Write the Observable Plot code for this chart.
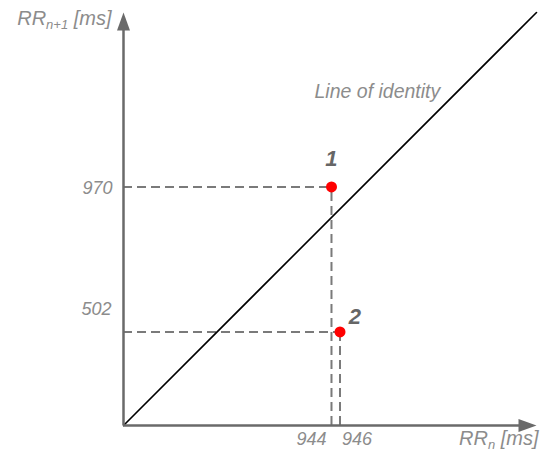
<!DOCTYPE html>
<html>
<head>
<meta charset="utf-8">
<script src="https://cdn.jsdelivr.net/npm/d3@7"></script>
<script src="https://cdn.jsdelivr.net/npm/@observablehq/plot@0.6"></script>
<style>
  html, body { margin: 0; padding: 0; background: #fff; }
  #chart svg { display: block; }
</style>
</head>
<body>
<div id="chart"></div>
<script>
// Data (schematic Poincaré plot)
const beats = ["1", "2"];
const rrN = [944, 946];      // RR_n [ms]
const rrN1 = [970, 502];     // RR_{n+1} [ms]
const xTicks = ["944", "946"];
const yTicks = ["970", "502"];
const identityLabel = "Line of identity";
const xTitle = "RR_n [ms]";
const yTitle = "RR_n+1 [ms]";

// schematic (non-uniform) axis extents
const xDomain = [895.1, 992.2];
const yDomain = [200.2, 1533];

const pts = beats.map((b, i) => ({beat: b, x: rrN[i], y: rrN1[i]}));
const [xmin, xmax] = xDomain;
const [ymin, ymax] = yDomain;

const font = "'Liberation Sans', Arial, sans-serif";
const gray = "#8c8c8c";
const axisGray = "#6a6a6a";
const dash = "#7a7a7a";

const headUp = {
  draw(ctx) {
    ctx.moveTo(0, 0);
    ctx.lineTo(-6.5, 18);
    ctx.lineTo(6.5, 18);
    ctx.closePath();
  }
};

const txt = (data, opts) => Plot.text(data, {
  fontFamily: font, fontStyle: "italic", fontSize: 18, fill: gray, ...opts
});

const chart = Plot.plot({
  width: 542,
  height: 459,
  marginLeft: 123,
  marginRight: 6,
  marginTop: 12,
  marginBottom: 34,
  x: {domain: xDomain, axis: null},
  y: {domain: yDomain, axis: null},
  style: {background: "#fff", fontFamily: font},
  marks: [
    // dashed guide lines
    Plot.ruleY(pts, {y: "y", x1: xmin, x2: "x", stroke: dash, strokeWidth: 2, strokeDasharray: "9,5"}),
    Plot.ruleX(pts, {x: "x", y1: ymin, y2: "y", stroke: dash, strokeWidth: 2, strokeDasharray: "9,5"}),
    // line of identity
    Plot.line([[xmin, ymin], [xmax, ymax]], {x: d => d[0], y: d => d[1], stroke: "#000", strokeWidth: 1.6}),
    // axes
    Plot.ruleX([xmin], {y1: ymin, y2: ymax - 50, stroke: axisGray, strokeWidth: 2.5}),
    Plot.ruleY([ymin], {x1: xmin, x2: xmax - 3, stroke: axisGray, strokeWidth: 2.5}),
    Plot.dot([[xmin, ymax]], {x: d => d[0], y: d => d[1], symbol: headUp, fill: axisGray, stroke: "none"}),
    Plot.dot([[xmax, ymin]], {x: d => d[0], y: d => d[1], symbol: headUp, rotate: 90, fill: axisGray, stroke: "none"}),
    // points
    Plot.dot(pts, {x: "x", y: "y", r: 5.5, fill: "#f00", stroke: "none"}),
    // point labels
    txt([pts[0]], {x: "x", y: "y", text: "beat", dy: -28, fontWeight: "bold", fontSize: 22, fill: "#666"}),
    txt([pts[1]], {x: "x", y: "y", text: "beat", dx: 15, dy: -15, fontWeight: "bold", fontSize: 22, fill: "#666"}),
    // tick labels
    txt([0], {x: rrN[0], y: ymin, text: () => xTicks[0], textAnchor: "end", dx: -5, dy: 14}),
    txt([0], {x: rrN[1], y: ymin, text: () => xTicks[1], textAnchor: "start", dx: 2, dy: 14}),
    txt([0], {x: xmin, y: rrN1[0], text: () => yTicks[0], textAnchor: "end", dx: -11, dy: 1}),
    txt([0], {x: xmin, y: rrN1[1], text: () => yTicks[1], textAnchor: "end", dx: -12, dy: -23}),
    // identity label
    txt([0], {x: xmin, y: ymin, text: () => identityLabel, textAnchor: "start", dx: 191, dy: -334, fontSize: 19.5}),
    // axis titles
    txt([0], {x: xmax, y: ymin, text: () => xTitle, textAnchor: "end", dx: 2, dy: 13, fontSize: 20, className: "xtitle"}),
    txt([0], {x: xmin, y: ymax, text: () => yTitle, textAnchor: "end", dx: -12, dy: 6, fontSize: 20, className: "ytitle"})
  ]
});

document.getElementById("chart").appendChild(chart);

// rebuild axis titles with subscripts
function subscriptTitle(cls, main, sub, rest) {
  d3.select(chart).selectAll(`g.${cls} text`).each(function () {
    const t = d3.select(this);
    t.text(null);
    t.append("tspan").text(main);
    t.append("tspan").attr("font-size", 13).attr("dy", 4).text(sub);
    t.append("tspan").attr("dy", -4).text(rest);
  });
}
subscriptTitle("xtitle", "RR", "n", " [ms]");
subscriptTitle("ytitle", "RR", "n+1", " [ms]");
</script>
</body>
</html>
